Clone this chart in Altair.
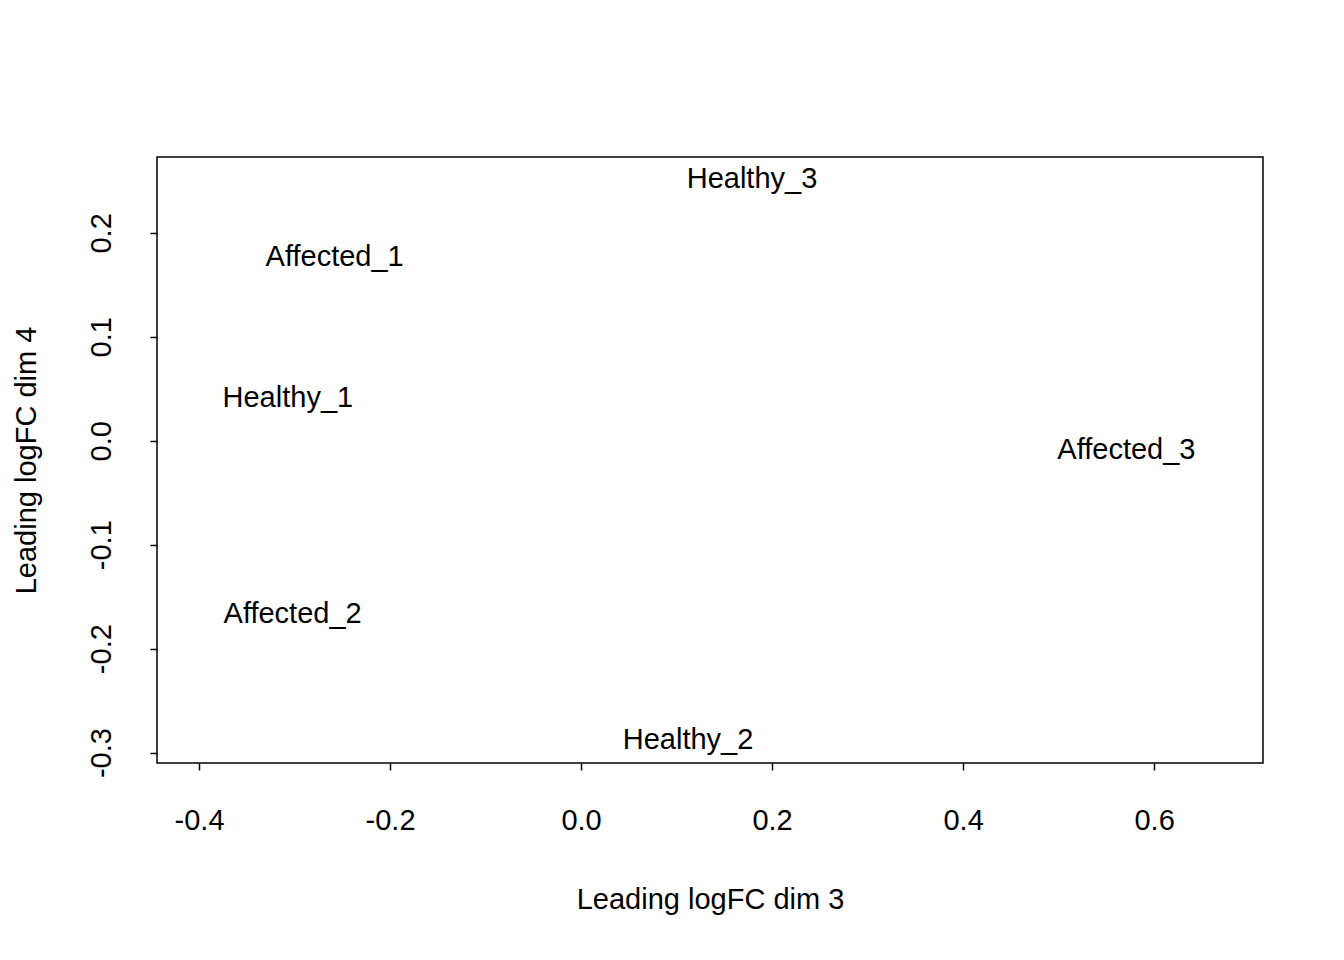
import pandas as pd
import altair as alt

# sample labels and their MDS coordinates
samples = ["Healthy_3", "Affected_1", "Healthy_1", "Affected_3", "Affected_2", "Healthy_2"]
dim3 = [0.179, -0.258, -0.307, 0.571, -0.302, 0.112]
dim4 = [0.252, 0.177, 0.041, -0.009, -0.167, -0.288]
x_ticks = [-0.4, -0.2, 0.0, 0.2, 0.4, 0.6]
y_ticks = [-0.3, -0.2, -0.1, 0.0, 0.1, 0.2]

df = pd.DataFrame({"Sample": samples, "dim3": dim3, "dim4": dim4})

fmt = "replace(format(datum.value, '.1f'), '\u2212', '-')"
font = "Liberation Sans"
fs = 29

chart = alt.Chart(df).mark_text(fontSize=fs, font=font, color="black").encode(
    x=alt.X("dim3:Q", scale=alt.Scale(domain=[-0.444, 0.714], nice=False, zero=False),
            axis=alt.Axis(values=x_ticks, labelExpr=fmt, title="Leading logFC dim 3",
                          grid=False, domain=False, tickSize=7, tickColor="black", tickWidth=1.5,
                          labelPadding=36, titlePadding=50, labelFontSize=fs,
                          titleFontSize=fs, titleFontWeight="normal", labelColor="black",
                          titleColor="black", labelFont=font, titleFont=font)),
    y=alt.Y("dim4:Q", scale=alt.Scale(domain=[-0.310, 0.273], nice=False, zero=False),
            axis=alt.Axis(values=y_ticks, labelExpr=fmt, title="Leading logFC dim 4",
                          grid=False, domain=False, tickSize=7, tickColor="black", tickWidth=1.5,
                          labelAngle=-90, labelAlign="center", labelBaseline="bottom",
                          labelPadding=34, titlePadding=46, labelFontSize=fs,
                          titleFontSize=fs, titleFontWeight="normal", labelColor="black",
                          titleColor="black", labelFont=font, titleFont=font)),
    text="Sample:N",
).properties(
    width=1106, height=606,
    autosize=alt.AutoSizeParams(type="none"),
    padding={"left": 149, "top": 149, "right": 73, "bottom": 189},
).configure_view(stroke="black", strokeWidth=1.5)

chart.save("out.html", embed_options={"renderer": "svg", "actions": False})
